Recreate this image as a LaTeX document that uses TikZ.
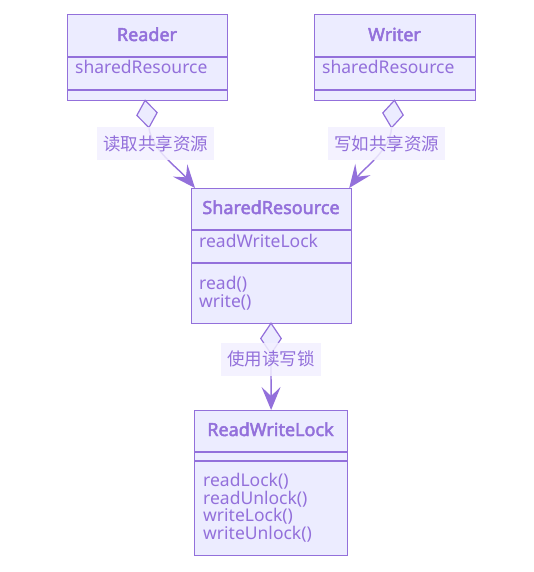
\documentclass[tikz,border=0pt]{standalone}
\usepackage{fontspec}
\setmainfont{Noto Sans}
\newfontfamily\titlefont{Noto Sans}[FakeBold=2.6]
\newfontfamily\cjk{Noto Sans CJK SC}
\usetikzlibrary{arrows.meta,shapes.geometric,calc}
\definecolor{umlline}{HTML}{9370DB}
\definecolor{umlfill}{HTML}{ECECFF}
\definecolor{lblfill}{HTML}{F2F0FF}

\begin{document}
\begin{tikzpicture}[x=1pt,y=-1pt,
  classbox/.style={draw=umlline, fill=umlfill, line width=1.2pt, inner sep=0pt, anchor=north west},
  sepline/.style={draw=umlline, line width=1.2pt},
  titletext/.style={text=umlline, anchor=base, inner sep=0pt, font=\fontsize{18}{19}\titlefont},
  membertext/.style={text=umlline, anchor=base west, inner sep=0pt, font=\fontsize{17.5}{19}\selectfont},
  aggdia/.style={diamond, draw=umlline, fill=umlfill, line width=1.2pt, inner sep=0pt, minimum width=21pt, minimum height=28pt},
  assoc/.style={draw=umlline, line width=1.4pt, -{Stealth[length=23pt, width=19pt, inset=9pt]}},
  edgelabel/.style={fill=lblfill, fill opacity=0.85, text opacity=1, text=umlline, inner xsep=6pt, inner ysep=0pt, minimum height=33pt, font=\fontsize{17.5}{19}\cjk}
]
\useasboundingbox (0,0) rectangle (534,572);

% class boxes
\node (reader) [classbox, minimum width=160pt, minimum height=86pt] at (67,14) {};
\node (writer) [classbox, minimum width=161pt, minimum height=86pt] at (314,14) {};
\node (shared) [classbox, minimum width=160pt, minimum height=135pt] at (191,188) {};
\node (lock) [classbox, minimum width=153pt, minimum height=145pt] at (194,410) {};

\draw[sepline] (reader.west |- 0,57) -- (reader.east |- 0,57);
\draw[sepline] (reader.west |- 0,90) -- (reader.east |- 0,90);
\draw[sepline] (writer.west |- 0,57) -- (writer.east |- 0,57);
\draw[sepline] (writer.west |- 0,90) -- (writer.east |- 0,90);
\draw[sepline] (shared.west |- 0,230) -- (shared.east |- 0,230);
\draw[sepline] (shared.west |- 0,263) -- (shared.east |- 0,263);
\draw[sepline] (lock.west |- 0,452) -- (lock.east |- 0,452);
\draw[sepline] (lock.west |- 0,461) -- (lock.east |- 0,461);

% class texts
\node (readertitle) [titletext] at (147,41) {Reader};
\node (readerattr) [membertext] at (75,74) {sharedResource};
\node (writertitle) [titletext] at (394.5,41) {Writer};
\node (writerattr) [membertext] at (322,74) {sharedResource};
\node (sharedtitle) [titletext] at (271,214) {SharedResource};
\node (sharedattr) [membertext] at (199,247) {readWriteLock};
\node (sharedread) [membertext] at (199,289) {read()};
\node (sharedwrite) [membertext] at (199,307) {write()};
\node (locktitle) [titletext] at (270.5,436) {ReadWriteLock};
\node (lockrl) [membertext] at (203,486) {readLock()};
\node (lockru) [membertext] at (203,504) {readUnlock()};
\node (lockwl) [membertext] at (203,521) {writeLock()};
\node (lockwu) [membertext] at (203,539) {writeUnlock()};

% aggregation diamonds
\node (readerdia) [aggdia, rotate=8] at (147,114) {};
\node (writerdia) [aggdia, rotate=-6] at (393,114) {};
\node (shareddia) [aggdia, minimum height=31pt] at (271,338.5) {};

% connectors
\draw[assoc] (readerdia.south) .. controls (152,150) and (178,168) .. ($(shared.north west)+(4,0)$);
\draw[assoc] (writerdia.south) .. controls (390,150) and (364,168) .. ($(shared.north east)+(-3,0)$);
\draw[assoc] (shareddia.south) -- (lock.north);

% edge labels
\node (readerlbl) [edgelabel] at (155.5,143.5) {读取共享资源};
\node (writerlbl) [edgelabel] at (386.5,143.5) {写如共享资源};
\node (sharedlbl) [edgelabel] at (271,359) {使用读写锁};
\end{tikzpicture}
\end{document}
